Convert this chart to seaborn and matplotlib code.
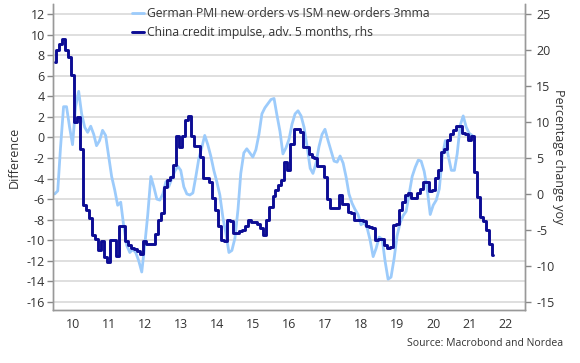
import numpy as np
import pandas as pd
import matplotlib
matplotlib.use("Agg")
import matplotlib.pyplot as plt
import matplotlib.dates as mdates
import seaborn as sns

# German PMI new orders minus ISM new orders, 3mma (lhs), monthly from Jan 2010
pmi_diff = [
    -5.5, -5.2, -1.0, 3.0, 3.0, 1.0, -0.7, 3.0, 4.5, 2.3, 1.0, 0.5,
    1.1, 0.3, -0.8, -0.3, 0.7, 0.2, -1.8, -3.8, -5.1, -6.6, -6.3, -8.6,
    -10.5, -11.2, -10.9, -11.2, -12.0, -13.1, -10.5, -7.5, -3.8, -4.8, -6.0, -6.1,
    -5.5, -4.3, -4.8, -4.0, -3.3, -2.8, -3.2, -4.8, -5.5, -5.6, -5.4, -3.8,
    -2.0, -0.9, 0.2, -0.7, -1.8, -3.2, -4.3, -5.6, -7.8, -9.3, -11.2, -11.0,
    -9.8, -7.0, -3.5, -1.5, -1.1, -1.5, -1.9, -1.2, 0.3, 2.3, 2.9, 3.3,
    3.7, 3.8, 2.2, 0.6, -1.6, -1.0, -0.2, 1.3, 2.3, 2.6, 2.1, 1.0,
    -0.9, -3.0, -3.5, -2.5, -0.9, 0.3, 0.8, -0.3, -1.3, -2.3, -2.4, -1.8,
    -2.5, -3.9, -5.5, -6.4, -7.0, -7.5, -8.5, -8.3, -8.8, -10.0, -11.6, -10.8,
    -9.7, -9.9, -12.0, -13.8, -13.6, -11.8, -9.6, -8.3, -7.6, -7.2, -5.5, -3.8,
    -2.9, -2.2, -2.3, -3.3, -5.0, -7.5, -6.6, -6.1, -5.0, -1.9, -0.3, -1.8,
    -3.2, -3.2, -1.6, 1.2, 2.1, 1.0, 0.4, 0.2,
]

# China credit impulse advanced 5 months, % y/y (rhs), monthly from Jan 2010
credit_impulse = [
    18.4, 20.0, 20.8, 21.6, 20.0, 19.1, 16.5, 10.0, 10.7, 6.3, -1.5, -2.2,
    -3.4, -5.7, -6.2, -7.8, -6.6, -8.7, -9.4, -6.4, -6.4, -8.6, -4.5, -4.5,
    -6.6, -7.1, -7.5, -7.7, -8.0, -8.3, -6.6, -6.9, -6.9, -6.9, -5.6, -3.6,
    -2.7, 1.0, 1.9, 2.4, 4.0, 8.0, 6.6, 8.0, 10.3, 10.8, 8.0, 6.7,
    6.7, 5.2, 2.2, 2.2, 1.7, -0.6, -2.2, -4.5, -6.4, -6.6, -3.6, -3.8,
    -5.5, -5.4, -5.2, -5.0, -4.5, -3.6, -3.9, -3.9, -4.2, -4.8, -5.7, -3.6,
    -1.8, -0.3, 0.6, 1.3, 1.9, 4.5, 3.3, 7.0, 9.1, 9.1, 8.65, 6.6,
    6.6, 5.6, 5.2, 5.0, 3.9, 3.9, 2.4, -0.7, -1.9, -2.0, -1.9, -0.2,
    -1.4, -1.4, -2.5, -2.6, -3.6, -3.6, -3.6, -3.7, -4.5, -4.6, -4.7, -6.4,
    -6.2, -6.2, -7.1, -7.5, -7.4, -4.3, -4.2, -2.2, -1.1, -0.1, 0.1, -0.6,
    -0.6, 0.2, 0.7, 1.7, 1.7, 0.4, 0.5, 2.2, 3.3, 5.8, 6.3, 7.5,
    8.4, 8.9, 9.5, 9.4, 8.5, 8.4, 7.5, 8.0, 3.1, -0.4, -3.2, -3.8,
    -5.0, -6.9, -8.5,
]

left_ticks = list(range(-16, 13, 2))
right_ticks = list(range(-15, 26, 5))
year_labels = [f"{y % 100:02d}" for y in range(2010, 2023)]

label_pmi = "German PMI new orders vs ISM new orders 3mma"
label_china = "China credit impulse, adv. 5 months, rhs"

LIGHT = "#9ccbfb"
DARK = "#0c0c94"
GRID = "#d9d9d9"
TEXT = "#333333"

df_pmi = pd.DataFrame({
    "date": pd.date_range("2010-01-01", periods=len(pmi_diff), freq="MS"),
    "value": pmi_diff,
})
df_china = pd.DataFrame({
    "date": pd.date_range("2010-01-01", periods=len(credit_impulse), freq="MS"),
    "value": credit_impulse,
})

sns.set_theme(style="white")
plt.rcParams["font.family"] = ["Open Sans", "DejaVu Sans"]
plt.rcParams["axes.unicode_minus"] = False

fig = plt.figure(figsize=(5.8, 3.63), dpi=100)
ax = fig.add_axes([53 / 580, 1 - 310 / 363, 472 / 580, 306 / 363])
ax2 = ax.twinx()

sns.lineplot(data=df_pmi, x="date", y="value", ax=ax, color=LIGHT,
             linewidth=2.0, label=label_pmi, legend=False)
sns.lineplot(data=df_china, x="date", y="value", ax=ax2, color=DARK,
             linewidth=2.1, drawstyle="steps-mid", label=label_china, legend=False)

# axis ranges: 12 on lhs lines up with 25 on rhs, -16 with -15
lo, hi = -16.8, 13.0
ax.set_ylim(lo, hi)
ax2.set_ylim(25 + (lo - 12) * 40 / 28, 25 + (hi - 12) * 40 / 28)
ax.set_xlim(pd.Timestamp("2009-12-15"), pd.Timestamp("2023-01-17"))

ax.set_yticks(left_ticks)
ax.set_yticklabels([str(v) for v in left_ticks])
ax2.set_yticks(right_ticks)
ax2.set_yticklabels([str(v) for v in right_ticks])
ax.yaxis.grid(True, color=GRID, linewidth=1.2)
ax.set_axisbelow(True)

# year boundaries as ticks, labels in the middle of the year
ax.xaxis.set_major_locator(mdates.YearLocator())
ax.xaxis.set_major_formatter(plt.NullFormatter())
ax.set_xticks([pd.Timestamp(f"{y}-07-01") for y in range(2010, 2023)], minor=True)
ax.set_xticklabels(year_labels, minor=True)
ax.tick_params(axis="x", which="major", length=4, width=1, color="#888888", direction="out")
ax.tick_params(axis="x", which="minor", length=0, pad=6, labelsize=9, labelcolor=TEXT)
ax.tick_params(axis="y", length=4, width=1, color="#888888", pad=2, labelsize=9, labelcolor=TEXT)
ax2.tick_params(axis="y", length=4, width=1, color="#888888", pad=4, labelsize=9, labelcolor=TEXT)

for a in (ax, ax2):
    a.spines["top"].set_visible(False)
    for s in ("left", "right", "bottom"):
        a.spines[s].set_color("#999999")
        a.spines[s].set_linewidth(1.0)

ax.set_xlabel("")
ax.set_ylabel("Difference", fontsize=9, color=TEXT, labelpad=4)
ax2.set_ylabel("Percentage change yoy", fontsize=9, color=TEXT, rotation=270, labelpad=8)

h1, l1 = ax.get_legend_handles_labels()
h2, l2 = ax2.get_legend_handles_labels()
leg = ax2.legend(h1 + h2, l1 + l2, loc="upper left", bbox_to_anchor=(0.168, 0.99),
                 frameon=False, fontsize=8.7, handlelength=1.0, handletextpad=0.2,
                 labelspacing=0.5, borderpad=0.0, borderaxespad=0.0)
for t in leg.get_texts():
    t.set_color(TEXT)

fig.text(563 / 580, 1 - 344 / 363, "Source: Macrobond and Nordea", ha="right",
         va="center", fontsize=7.5, color=TEXT)

fig.savefig("out.png", dpi=100)
